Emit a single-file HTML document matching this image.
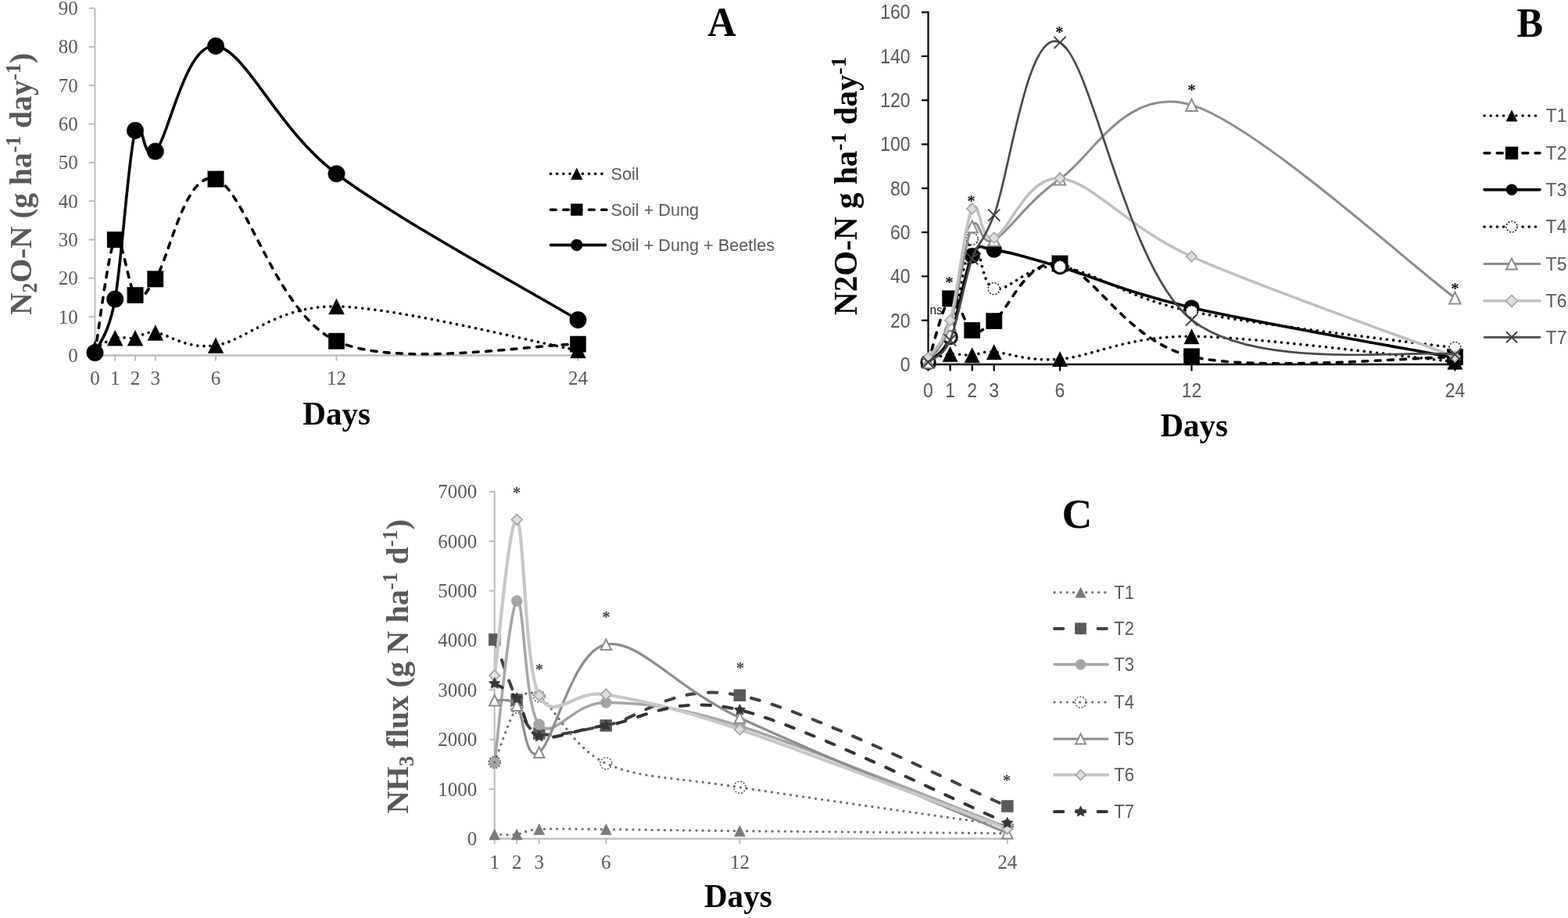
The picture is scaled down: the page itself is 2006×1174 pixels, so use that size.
<!DOCTYPE html>
<html><head><meta charset="utf-8"><title>N2O and NH3 flux figure</title>
<style>html,body{margin:0;padding:0;background:#fff;overflow:hidden;}#fig{width:2006px;height:1174px;}svg{display:block;}</style>
</head><body>
<div id="fig">
<svg width="2006" height="1174" viewBox="0 0 2006 1174">
<rect width="2006" height="1174" fill="#ffffff"/>
<g stroke="#bdbdbd" fill="none">
<line x1="121.5" y1="11.0" x2="121.5" y2="454.5" stroke-width="2"/>
<line x1="113.5" y1="454.5" x2="121.5" y2="454.5" stroke-width="2"/>
<line x1="113.5" y1="405.2" x2="121.5" y2="405.2" stroke-width="2"/>
<line x1="113.5" y1="355.8" x2="121.5" y2="355.8" stroke-width="2"/>
<line x1="113.5" y1="306.5" x2="121.5" y2="306.5" stroke-width="2"/>
<line x1="113.5" y1="257.2" x2="121.5" y2="257.2" stroke-width="2"/>
<line x1="113.5" y1="207.9" x2="121.5" y2="207.9" stroke-width="2"/>
<line x1="113.5" y1="158.5" x2="121.5" y2="158.5" stroke-width="2"/>
<line x1="113.5" y1="109.2" x2="121.5" y2="109.2" stroke-width="2"/>
<line x1="113.5" y1="59.9" x2="121.5" y2="59.9" stroke-width="2"/>
<line x1="113.5" y1="10.5" x2="121.5" y2="10.5" stroke-width="2"/>
<line x1="120.5" y1="454.5" x2="740.5" y2="454.5" stroke-width="2.4"/>
<line x1="121.5" y1="454.5" x2="121.5" y2="461.5" stroke-width="2"/>
<line x1="147.2" y1="454.5" x2="147.2" y2="461.5" stroke-width="2"/>
<line x1="173.0" y1="454.5" x2="173.0" y2="461.5" stroke-width="2"/>
<line x1="198.8" y1="454.5" x2="198.8" y2="461.5" stroke-width="2"/>
<line x1="276.0" y1="454.5" x2="276.0" y2="461.5" stroke-width="2"/>
<line x1="430.5" y1="454.5" x2="430.5" y2="461.5" stroke-width="2"/>
<line x1="739.5" y1="454.5" x2="739.5" y2="461.5" stroke-width="2"/>
</g>
<text transform="translate(99.80,462.90)" text-anchor="end" font-family="'Liberation Serif', 'Times New Roman', serif" font-size="25.0" fill="#595959" >0</text>
<text transform="translate(99.80,413.57)" text-anchor="end" font-family="'Liberation Serif', 'Times New Roman', serif" font-size="25.0" fill="#595959" >10</text>
<text transform="translate(99.80,364.24)" text-anchor="end" font-family="'Liberation Serif', 'Times New Roman', serif" font-size="25.0" fill="#595959" >20</text>
<text transform="translate(99.80,314.91)" text-anchor="end" font-family="'Liberation Serif', 'Times New Roman', serif" font-size="25.0" fill="#595959" >30</text>
<text transform="translate(99.80,265.58)" text-anchor="end" font-family="'Liberation Serif', 'Times New Roman', serif" font-size="25.0" fill="#595959" >40</text>
<text transform="translate(99.80,216.25)" text-anchor="end" font-family="'Liberation Serif', 'Times New Roman', serif" font-size="25.0" fill="#595959" >50</text>
<text transform="translate(99.80,166.92)" text-anchor="end" font-family="'Liberation Serif', 'Times New Roman', serif" font-size="25.0" fill="#595959" >60</text>
<text transform="translate(99.80,117.59)" text-anchor="end" font-family="'Liberation Serif', 'Times New Roman', serif" font-size="25.0" fill="#595959" >70</text>
<text transform="translate(99.80,68.26)" text-anchor="end" font-family="'Liberation Serif', 'Times New Roman', serif" font-size="25.0" fill="#595959" >80</text>
<text transform="translate(99.80,18.93)" text-anchor="end" font-family="'Liberation Serif', 'Times New Roman', serif" font-size="25.0" fill="#595959" >90</text>
<text transform="translate(121.50,491.50)" text-anchor="middle" font-family="'Liberation Serif', 'Times New Roman', serif" font-size="25.0" fill="#595959" >0</text>
<text transform="translate(147.25,491.50)" text-anchor="middle" font-family="'Liberation Serif', 'Times New Roman', serif" font-size="25.0" fill="#595959" >1</text>
<text transform="translate(173.00,491.50)" text-anchor="middle" font-family="'Liberation Serif', 'Times New Roman', serif" font-size="25.0" fill="#595959" >2</text>
<text transform="translate(198.75,491.50)" text-anchor="middle" font-family="'Liberation Serif', 'Times New Roman', serif" font-size="25.0" fill="#595959" >3</text>
<text transform="translate(276.00,491.50)" text-anchor="middle" font-family="'Liberation Serif', 'Times New Roman', serif" font-size="25.0" fill="#595959" >6</text>
<text transform="translate(430.50,491.50)" text-anchor="middle" font-family="'Liberation Serif', 'Times New Roman', serif" font-size="25.0" fill="#595959" >12</text>
<text transform="translate(739.50,491.50)" text-anchor="middle" font-family="'Liberation Serif', 'Times New Roman', serif" font-size="25.0" fill="#595959" >24</text>
<text transform="translate(39.60,235.40) rotate(-90) scale(0.9600,1)" text-anchor="middle" font-family="'Liberation Serif', 'Times New Roman', serif" font-size="41.0" font-weight="bold" fill="#595959" >N<tspan font-size="27" dy="7">2</tspan><tspan dy="-7">O-N (g ha</tspan><tspan font-size="27" dy="-14">-1</tspan><tspan dy="14"> day</tspan><tspan font-size="27" dy="-14">-1</tspan><tspan dy="14">)</tspan></text>
<text transform="translate(430.70,542.60) scale(0.9550,1)" text-anchor="middle" font-family="'Liberation Serif', 'Times New Roman', serif" font-size="43.0" font-weight="bold" fill="#000" >Days</text>
<text transform="translate(923.45,45.90) scale(0.9600,1)" text-anchor="middle" font-family="'Liberation Serif', 'Times New Roman', serif" font-size="52.5" font-weight="bold" fill="#000" >A</text>
<path d="M121.5,445.6 C125.8,443.4 138.7,434.5 147.2,432.3 C155.8,430.1 164.4,433.5 173.0,432.3 C181.6,431.2 181.6,423.8 198.8,425.4 C215.9,427.0 237.4,447.3 276.0,441.7 C314.6,436.1 353.2,390.8 430.5,391.9 C507.8,392.9 688.0,438.7 739.5,448.1" fill="none" stroke="#000" stroke-width="3.6" stroke-dasharray="0.1 8.07" stroke-linecap="round"/>
<polygon points="121.5,435.6 131.5,455.6 111.5,455.6" fill="#000" stroke="#000" stroke-width="0.3" stroke-linejoin="miter" />
<polygon points="147.2,422.3 157.2,442.3 137.2,442.3" fill="#000" stroke="#000" stroke-width="0.3" stroke-linejoin="miter" />
<polygon points="173.0,422.3 183.0,442.3 163.0,442.3" fill="#000" stroke="#000" stroke-width="0.3" stroke-linejoin="miter" />
<polygon points="198.8,415.4 208.8,435.4 188.8,435.4" fill="#000" stroke="#000" stroke-width="0.3" stroke-linejoin="miter" />
<polygon points="276.0,431.7 286.0,451.7 266.0,451.7" fill="#000" stroke="#000" stroke-width="0.3" stroke-linejoin="miter" />
<polygon points="430.5,381.9 440.5,401.9 420.5,401.9" fill="#000" stroke="#000" stroke-width="0.3" stroke-linejoin="miter" />
<polygon points="739.5,438.1 749.5,458.1 729.5,458.1" fill="#000" stroke="#000" stroke-width="0.3" stroke-linejoin="miter" />
<path d="M121.5,451.5 C125.8,427.4 138.7,318.8 147.2,306.5 C155.8,294.2 164.4,369.2 173.0,377.5 C181.6,385.9 181.6,381.6 198.8,356.8 C215.9,332.1 237.4,215.8 276.0,229.1 C314.6,242.3 353.2,401.1 430.5,436.2 C507.8,471.4 688.0,439.5 739.5,440.2" fill="none" stroke="#000" stroke-width="3.6" stroke-dasharray="6.9 9.4" stroke-linecap="round"/>
<rect x="137.0" y="296.3" width="20.5" height="20.5" fill="#000" stroke="#000" stroke-width="0.3" />
<rect x="162.8" y="367.3" width="20.5" height="20.5" fill="#000" stroke="#000" stroke-width="0.3" />
<rect x="188.5" y="346.6" width="20.5" height="20.5" fill="#000" stroke="#000" stroke-width="0.3" />
<rect x="265.8" y="218.8" width="20.5" height="20.5" fill="#000" stroke="#000" stroke-width="0.3" />
<rect x="420.2" y="426.0" width="20.5" height="20.5" fill="#000" stroke="#000" stroke-width="0.3" />
<rect x="729.2" y="429.9" width="20.5" height="20.5" fill="#000" stroke="#000" stroke-width="0.3" />
<path d="M121.5,451.0 C125.8,439.6 138.7,429.8 147.2,382.5 C155.8,335.1 164.4,198.4 173.0,166.9 C181.6,135.4 181.6,211.5 198.8,193.5 C215.9,175.5 237.4,54.1 276.0,58.9 C314.6,63.6 353.2,163.8 430.5,222.2 C507.8,280.5 688.0,378.0 739.5,409.1" fill="none" stroke="#000" stroke-width="3.6"/>
<circle cx="121.5" cy="451.0" r="10.8" fill="#000" stroke="#000" stroke-width="0.3" />
<circle cx="147.2" cy="382.5" r="10.8" fill="#000" stroke="#000" stroke-width="0.3" />
<circle cx="173.0" cy="166.9" r="10.8" fill="#000" stroke="#000" stroke-width="0.3" />
<circle cx="198.8" cy="193.5" r="10.8" fill="#000" stroke="#000" stroke-width="0.3" />
<circle cx="276.0" cy="58.9" r="10.8" fill="#000" stroke="#000" stroke-width="0.3" />
<circle cx="430.5" cy="222.2" r="10.8" fill="#000" stroke="#000" stroke-width="0.3" />
<circle cx="739.5" cy="409.1" r="10.8" fill="#000" stroke="#000" stroke-width="0.3" />
<line x1="704.5" y1="222.2" x2="772.0" y2="222.2" stroke="#000" stroke-width="3.6" stroke-dasharray="0.1 8.07" stroke-linecap="round"/>
<polygon points="737.8,214.7 745.3,229.7 730.3,229.7" fill="#000" stroke="#000" stroke-width="0.3" stroke-linejoin="miter" />
<text transform="translate(781.50,230.20) scale(0.9850,1)" text-anchor="start" font-family="'Liberation Sans', Arial, sans-serif" font-size="22.0" fill="#595959" >Soil</text>
<line x1="704.5" y1="268.2" x2="776.0" y2="268.2" stroke="#000" stroke-width="3.6" stroke-dasharray="6.9 9.4" stroke-linecap="round"/>
<rect x="730.3" y="260.7" width="15.0" height="15.0" fill="#000" stroke="#000" stroke-width="0.3" />
<text transform="translate(781.50,276.20) scale(0.9850,1)" text-anchor="start" font-family="'Liberation Sans', Arial, sans-serif" font-size="22.0" fill="#595959" >Soil + Dung</text>
<line x1="704.5" y1="313.4" x2="774.5" y2="313.4" stroke="#000" stroke-width="3.6" stroke-linecap="round"/>
<circle cx="737.8" cy="313.4" r="7.5" fill="#000" stroke="#000" stroke-width="0.3" />
<text transform="translate(781.50,321.40) scale(0.9850,1)" text-anchor="start" font-family="'Liberation Sans', Arial, sans-serif" font-size="22.0" fill="#595959" >Soil + Dung + Beetles</text>
<g stroke="#000" fill="none">
<line x1="1187.5" y1="14.6" x2="1187.5" y2="466.0" stroke-width="2.2"/>
<line x1="1179.0" y1="466.0" x2="1187.5" y2="466.0" stroke-width="2.2"/>
<line x1="1179.0" y1="409.7" x2="1187.5" y2="409.7" stroke-width="2.2"/>
<line x1="1179.0" y1="353.4" x2="1187.5" y2="353.4" stroke-width="2.2"/>
<line x1="1179.0" y1="297.1" x2="1187.5" y2="297.1" stroke-width="2.2"/>
<line x1="1179.0" y1="240.8" x2="1187.5" y2="240.8" stroke-width="2.2"/>
<line x1="1179.0" y1="184.5" x2="1187.5" y2="184.5" stroke-width="2.2"/>
<line x1="1179.0" y1="128.2" x2="1187.5" y2="128.2" stroke-width="2.2"/>
<line x1="1179.0" y1="71.9" x2="1187.5" y2="71.9" stroke-width="2.2"/>
<line x1="1179.0" y1="15.6" x2="1187.5" y2="15.6" stroke-width="2.2"/>
<line x1="1186.5" y1="466.0" x2="1862.4" y2="466.0" stroke-width="2.5"/>
<line x1="1187.5" y1="466.0" x2="1187.5" y2="474.5" stroke-width="2.2"/>
<line x1="1215.6" y1="466.0" x2="1215.6" y2="474.5" stroke-width="2.2"/>
<line x1="1243.7" y1="466.0" x2="1243.7" y2="474.5" stroke-width="2.2"/>
<line x1="1271.7" y1="466.0" x2="1271.7" y2="474.5" stroke-width="2.2"/>
<line x1="1356.0" y1="466.0" x2="1356.0" y2="474.5" stroke-width="2.2"/>
<line x1="1524.5" y1="466.0" x2="1524.5" y2="474.5" stroke-width="2.2"/>
<line x1="1861.4" y1="466.0" x2="1861.4" y2="474.5" stroke-width="2.2"/>
</g>
<text transform="translate(1164.60,474.80) scale(0.9200,1)" text-anchor="end" font-family="'Liberation Sans', Arial, sans-serif" font-size="25.0" fill="#595959" >0</text>
<text transform="translate(1164.60,418.50) scale(0.9200,1)" text-anchor="end" font-family="'Liberation Sans', Arial, sans-serif" font-size="25.0" fill="#595959" >20</text>
<text transform="translate(1164.60,362.20) scale(0.9200,1)" text-anchor="end" font-family="'Liberation Sans', Arial, sans-serif" font-size="25.0" fill="#595959" >40</text>
<text transform="translate(1164.60,305.90) scale(0.9200,1)" text-anchor="end" font-family="'Liberation Sans', Arial, sans-serif" font-size="25.0" fill="#595959" >60</text>
<text transform="translate(1164.60,249.60) scale(0.9200,1)" text-anchor="end" font-family="'Liberation Sans', Arial, sans-serif" font-size="25.0" fill="#595959" >80</text>
<text transform="translate(1164.60,193.30) scale(0.9200,1)" text-anchor="end" font-family="'Liberation Sans', Arial, sans-serif" font-size="25.0" fill="#595959" >100</text>
<text transform="translate(1164.60,137.00) scale(0.9200,1)" text-anchor="end" font-family="'Liberation Sans', Arial, sans-serif" font-size="25.0" fill="#595959" >120</text>
<text transform="translate(1164.60,80.70) scale(0.9200,1)" text-anchor="end" font-family="'Liberation Sans', Arial, sans-serif" font-size="25.0" fill="#595959" >140</text>
<text transform="translate(1164.60,24.40) scale(0.9200,1)" text-anchor="end" font-family="'Liberation Sans', Arial, sans-serif" font-size="25.0" fill="#595959" >160</text>
<text transform="translate(1187.50,507.60) scale(0.9200,1)" text-anchor="middle" font-family="'Liberation Sans', Arial, sans-serif" font-size="25.0" fill="#595959" >0</text>
<text transform="translate(1215.58,507.60) scale(0.9200,1)" text-anchor="middle" font-family="'Liberation Sans', Arial, sans-serif" font-size="25.0" fill="#595959" >1</text>
<text transform="translate(1243.66,507.60) scale(0.9200,1)" text-anchor="middle" font-family="'Liberation Sans', Arial, sans-serif" font-size="25.0" fill="#595959" >2</text>
<text transform="translate(1271.74,507.60) scale(0.9200,1)" text-anchor="middle" font-family="'Liberation Sans', Arial, sans-serif" font-size="25.0" fill="#595959" >3</text>
<text transform="translate(1355.98,507.60) scale(0.9200,1)" text-anchor="middle" font-family="'Liberation Sans', Arial, sans-serif" font-size="25.0" fill="#595959" >6</text>
<text transform="translate(1524.46,507.60) scale(0.9200,1)" text-anchor="middle" font-family="'Liberation Sans', Arial, sans-serif" font-size="25.0" fill="#595959" >12</text>
<text transform="translate(1861.42,507.60) scale(0.9200,1)" text-anchor="middle" font-family="'Liberation Sans', Arial, sans-serif" font-size="25.0" fill="#595959" >24</text>
<text transform="translate(1096.30,237.80) rotate(-90) scale(0.9800,1)" text-anchor="middle" font-family="'Liberation Serif', 'Times New Roman', serif" font-size="42.0" font-weight="bold" fill="#000" >N2O-N g ha<tspan font-size="28" dy="-14">-1</tspan><tspan dy="14"> day</tspan><tspan font-size="28" dy="-14">-1</tspan></text>
<text transform="translate(1527.75,557.90) scale(0.9550,1)" text-anchor="middle" font-family="'Liberation Serif', 'Times New Roman', serif" font-size="43.0" font-weight="bold" fill="#000" >Days</text>
<text transform="translate(1957.40,47.10) scale(0.9400,1)" text-anchor="middle" font-family="'Liberation Serif', 'Times New Roman', serif" font-size="53.6" font-weight="bold" fill="#000" >B</text>
<path d="M1187.5,459.8 C1192.2,458.7 1206.2,454.0 1215.6,453.1 C1224.9,452.1 1234.3,454.6 1243.7,454.2 C1253.0,453.7 1253.0,449.4 1271.7,450.2 C1290.5,451.1 1313.9,462.6 1356.0,459.2 C1398.1,455.9 1440.2,429.7 1524.5,430.2 C1608.7,430.8 1805.3,457.2 1861.4,462.6" fill="none" stroke="#000" stroke-width="3.6" stroke-dasharray="0.1 8.07" stroke-linecap="round"/>
<polygon points="1187.5,450.1 1197.2,469.6 1177.8,469.6" fill="#000" stroke="#000" stroke-width="0.3" stroke-linejoin="miter" />
<polygon points="1215.6,443.3 1225.3,462.8 1205.8,462.8" fill="#000" stroke="#000" stroke-width="0.3" stroke-linejoin="miter" />
<polygon points="1243.7,444.4 1253.4,463.9 1233.9,463.9" fill="#000" stroke="#000" stroke-width="0.3" stroke-linejoin="miter" />
<polygon points="1271.7,440.5 1281.5,460.0 1262.0,460.0" fill="#000" stroke="#000" stroke-width="0.3" stroke-linejoin="miter" />
<polygon points="1356.0,449.5 1365.7,469.0 1346.2,469.0" fill="#000" stroke="#000" stroke-width="0.3" stroke-linejoin="miter" />
<polygon points="1524.5,420.5 1534.2,440.0 1514.7,440.0" fill="#000" stroke="#000" stroke-width="0.3" stroke-linejoin="miter" />
<polygon points="1861.4,452.9 1871.2,472.4 1851.7,472.4" fill="#000" stroke="#000" stroke-width="0.3" stroke-linejoin="miter" />
<path d="M1187.5,463.2 C1192.2,449.6 1206.2,388.6 1215.6,381.8 C1224.9,375.0 1234.3,417.6 1243.7,422.4 C1253.0,427.2 1253.0,424.8 1271.7,410.5 C1290.5,396.3 1313.9,329.5 1356.0,337.1 C1398.1,344.6 1440.2,435.9 1524.5,455.9 C1608.7,475.8 1805.3,456.6 1861.4,456.7" fill="none" stroke="#000" stroke-width="3.6" stroke-dasharray="6.9 9.4" stroke-linecap="round"/>
<rect x="1205.3" y="371.6" width="20.5" height="20.5" fill="#000" stroke="#000" stroke-width="0.3" />
<rect x="1233.4" y="412.1" width="20.5" height="20.5" fill="#000" stroke="#000" stroke-width="0.3" />
<rect x="1261.5" y="400.3" width="20.5" height="20.5" fill="#000" stroke="#000" stroke-width="0.3" />
<rect x="1345.7" y="326.8" width="20.5" height="20.5" fill="#000" stroke="#000" stroke-width="0.3" />
<rect x="1514.2" y="445.6" width="20.5" height="20.5" fill="#000" stroke="#000" stroke-width="0.3" />
<rect x="1851.2" y="446.5" width="20.5" height="20.5" fill="#000" stroke="#000" stroke-width="0.3" />
<path d="M1187.5,463.2 C1192.2,457.8 1206.2,453.8 1215.6,431.1 C1224.9,408.4 1234.3,345.5 1243.7,326.9 C1253.0,308.4 1253.0,317.2 1271.7,319.6 C1290.5,322.0 1313.9,329.0 1356.0,341.3 C1398.1,353.6 1440.2,374.0 1524.5,393.4 C1608.7,412.7 1805.3,446.9 1861.4,457.6" fill="none" stroke="#000" stroke-width="3.6" />
<circle cx="1187.5" cy="463.2" r="10.0" fill="#000" stroke="#000" stroke-width="0.3" />
<circle cx="1215.6" cy="431.1" r="10.0" fill="#000" stroke="#000" stroke-width="0.3" />
<circle cx="1243.7" cy="326.9" r="10.0" fill="#000" stroke="#000" stroke-width="0.3" />
<circle cx="1271.7" cy="319.6" r="10.0" fill="#000" stroke="#000" stroke-width="0.3" />
<circle cx="1356.0" cy="341.3" r="10.0" fill="#000" stroke="#000" stroke-width="0.3" />
<circle cx="1524.5" cy="393.4" r="10.0" fill="#000" stroke="#000" stroke-width="0.3" />
<circle cx="1861.4" cy="457.6" r="10.0" fill="#000" stroke="#000" stroke-width="0.3" />
<path d="M1187.5,461.8 C1192.2,456.7 1206.2,457.1 1215.6,431.1 C1224.9,405.1 1234.3,315.9 1243.7,305.5 C1253.0,295.2 1253.0,363.3 1271.7,369.2 C1290.5,375.1 1313.9,336.1 1356.0,341.0 C1398.1,345.9 1440.2,381.1 1524.5,398.4 C1608.7,415.8 1805.3,437.1 1861.4,444.9" fill="none" stroke="#000" stroke-width="3.6" stroke-dasharray="0.1 8.07" stroke-linecap="round"/>
<circle cx="1187.5" cy="461.8" r="7.5" fill="#fff" stroke="#222" stroke-width="1.6" stroke-dasharray="2 2"/>
<circle cx="1215.6" cy="431.1" r="7.5" fill="#fff" stroke="#222" stroke-width="1.6" stroke-dasharray="2 2"/>
<circle cx="1243.7" cy="305.5" r="7.5" fill="#fff" stroke="#222" stroke-width="1.6" stroke-dasharray="2 2"/>
<circle cx="1271.7" cy="369.2" r="7.5" fill="#fff" stroke="#222" stroke-width="1.6" stroke-dasharray="2 2"/>
<circle cx="1356.0" cy="341.0" r="7.5" fill="#fff" stroke="#222" stroke-width="1.6" stroke-dasharray="2 2"/>
<circle cx="1524.5" cy="398.4" r="7.5" fill="#fff" stroke="#222" stroke-width="1.6" stroke-dasharray="2 2"/>
<circle cx="1861.4" cy="444.9" r="7.5" fill="#fff" stroke="#222" stroke-width="1.6" stroke-dasharray="2 2"/>
<path d="M1187.5,463.2 C1192.2,455.2 1206.2,444.2 1215.6,415.3 C1224.9,386.4 1234.3,307.8 1243.7,289.8 C1253.0,271.7 1253.0,317.1 1271.7,307.0 C1290.5,296.8 1313.9,257.7 1356.0,229.0 C1398.1,200.2 1440.2,109.1 1524.5,134.4 C1608.7,159.7 1805.3,339.9 1861.4,381.0" fill="none" stroke="#8c8c8c" stroke-width="3.0" />
<polygon points="1187.5,455.7 1194.8,470.7 1180.2,470.7" fill="#fff" stroke="#8c8c8c" stroke-width="2.0" stroke-linejoin="miter" />
<polygon points="1215.6,407.8 1222.8,422.8 1208.3,422.8" fill="#fff" stroke="#8c8c8c" stroke-width="2.0" stroke-linejoin="miter" />
<polygon points="1243.7,282.3 1250.9,297.3 1236.4,297.3" fill="#fff" stroke="#8c8c8c" stroke-width="2.0" stroke-linejoin="miter" />
<polygon points="1271.7,299.5 1279.0,314.5 1264.5,314.5" fill="#fff" stroke="#8c8c8c" stroke-width="2.0" stroke-linejoin="miter" />
<polygon points="1356.0,221.5 1363.2,236.5 1348.7,236.5" fill="#fff" stroke="#8c8c8c" stroke-width="2.0" stroke-linejoin="miter" />
<polygon points="1524.5,126.9 1531.7,141.9 1517.2,141.9" fill="#fff" stroke="#8c8c8c" stroke-width="2.0" stroke-linejoin="miter" />
<polygon points="1861.4,373.5 1868.7,388.5 1854.2,388.5" fill="#fff" stroke="#8c8c8c" stroke-width="2.0" stroke-linejoin="miter" />
<path d="M1187.5,457.6 C1192.2,449.6 1206.2,441.5 1215.6,409.7 C1224.9,377.9 1234.3,284.6 1243.7,267.0 C1253.0,249.4 1253.0,310.6 1271.7,304.1 C1290.5,297.7 1313.9,224.1 1356.0,228.1 C1398.1,232.1 1440.2,290.1 1524.5,328.1 C1608.7,366.1 1805.3,434.8 1861.4,456.1" fill="none" stroke="#c0c0c0" stroke-width="3.6" />
<polygon points="1187.5,450.8 1194.2,457.6 1187.5,464.3 1180.8,457.6" fill="#dcdcdc" stroke="#a6a6a6" stroke-width="1.6" />
<polygon points="1215.6,402.9 1222.3,409.7 1215.6,416.4 1208.8,409.7" fill="#dcdcdc" stroke="#a6a6a6" stroke-width="1.6" />
<polygon points="1243.7,260.2 1250.4,267.0 1243.7,273.7 1236.9,267.0" fill="#dcdcdc" stroke="#a6a6a6" stroke-width="1.6" />
<polygon points="1271.7,297.4 1278.5,304.1 1271.7,310.9 1265.0,304.1" fill="#dcdcdc" stroke="#a6a6a6" stroke-width="1.6" />
<polygon points="1356.0,221.4 1362.7,228.1 1356.0,234.9 1349.2,228.1" fill="#dcdcdc" stroke="#a6a6a6" stroke-width="1.6" />
<polygon points="1524.5,321.3 1531.2,328.1 1524.5,334.8 1517.7,328.1" fill="#dcdcdc" stroke="#a6a6a6" stroke-width="1.6" />
<polygon points="1861.4,449.4 1868.2,456.1 1861.4,462.9 1854.7,456.1" fill="#dcdcdc" stroke="#a6a6a6" stroke-width="1.6" />
<path d="M1187.5,463.2 C1192.2,458.5 1206.2,457.1 1215.6,435.0 C1224.9,413.0 1234.3,357.5 1243.7,330.9 C1253.0,304.2 1253.0,321.2 1271.7,275.1 C1290.5,229.1 1313.9,32.1 1356.0,54.4 C1398.1,76.8 1440.2,342.7 1524.5,409.1 C1608.7,475.6 1805.3,446.0 1861.4,453.3" fill="none" stroke="#4a4a4a" stroke-width="2.7" />
<path d="M1180.0,455.7 L1195.0,470.7 M1180.0,470.7 L1195.0,455.7" stroke="#3f3f3f" stroke-width="2.0" fill="none" />
<path d="M1208.1,427.5 L1223.1,442.5 M1208.1,442.5 L1223.1,427.5" stroke="#3f3f3f" stroke-width="2.0" fill="none" />
<path d="M1236.2,323.4 L1251.2,338.4 M1236.2,338.4 L1251.2,323.4" stroke="#3f3f3f" stroke-width="2.0" fill="none" />
<path d="M1264.2,267.6 L1279.2,282.6 M1264.2,282.6 L1279.2,267.6" stroke="#3f3f3f" stroke-width="2.0" fill="none" />
<path d="M1348.5,46.9 L1363.5,61.9 M1348.5,61.9 L1363.5,46.9" stroke="#3f3f3f" stroke-width="2.0" fill="none" />
<path d="M1517.0,401.6 L1532.0,416.6 M1517.0,416.6 L1532.0,401.6" stroke="#3f3f3f" stroke-width="2.0" fill="none" />
<path d="M1853.9,445.8 L1868.9,460.8 M1853.9,460.8 L1868.9,445.8" stroke="#3f3f3f" stroke-width="2.0" fill="none" />
<text transform="translate(1214.50,368.10)" text-anchor="middle" font-family="'Liberation Serif', 'Times New Roman', serif" font-size="21.0" font-weight="bold" fill="#111" >*</text>
<text transform="translate(1242.60,264.40)" text-anchor="middle" font-family="'Liberation Serif', 'Times New Roman', serif" font-size="21.0" font-weight="bold" fill="#111" >*</text>
<text transform="translate(1355.50,48.20)" text-anchor="middle" font-family="'Liberation Serif', 'Times New Roman', serif" font-size="21.0" font-weight="bold" fill="#111" >*</text>
<text transform="translate(1524.40,121.60)" text-anchor="middle" font-family="'Liberation Serif', 'Times New Roman', serif" font-size="21.0" font-weight="bold" fill="#111" >*</text>
<text transform="translate(1861.60,375.60)" text-anchor="middle" font-family="'Liberation Serif', 'Times New Roman', serif" font-size="21.0" font-weight="bold" fill="#111" >*</text>
<text transform="translate(1189.50,402.00) scale(0.9000,1)" text-anchor="start" font-family="'Liberation Sans', Arial, sans-serif" font-size="17.0" fill="#111" >ns</text>
<line x1="1899" y1="148.0" x2="1970" y2="148.0" stroke="#000" stroke-width="3.6" stroke-dasharray="0.1 8.07" stroke-linecap="round" />
<polygon points="1934.0,140.8 1941.2,155.2 1926.8,155.2" fill="#000" stroke="#000" stroke-width="0.3" stroke-linejoin="miter" />
<text transform="translate(1977.60,156.30)" text-anchor="start" font-family="'Liberation Sans', Arial, sans-serif" font-size="23.0" fill="#595959" >T1</text>
<line x1="1899" y1="195.8" x2="1970" y2="195.8" stroke="#000" stroke-width="3.6" stroke-dasharray="6.9 9.4" stroke-linecap="round" />
<rect x="1926.0" y="187.8" width="16.0" height="16.0" fill="#000" stroke="#000" stroke-width="0.3" />
<text transform="translate(1977.60,204.10)" text-anchor="start" font-family="'Liberation Sans', Arial, sans-serif" font-size="23.0" fill="#595959" >T2</text>
<line x1="1899" y1="242.6" x2="1970" y2="242.6" stroke="#000" stroke-width="3.6"  stroke-linecap="round"/>
<circle cx="1934.0" cy="242.6" r="7.2" fill="#000" stroke="#000" stroke-width="0.3" />
<text transform="translate(1977.60,250.90)" text-anchor="start" font-family="'Liberation Sans', Arial, sans-serif" font-size="23.0" fill="#595959" >T3</text>
<line x1="1899" y1="290.0" x2="1970" y2="290.0" stroke="#000" stroke-width="3.6" stroke-dasharray="0.1 8.07" stroke-linecap="round" />
<circle cx="1934.0" cy="290.0" r="7.0" fill="#fff" stroke="#222" stroke-width="1.6" stroke-dasharray="2 2"/>
<text transform="translate(1977.60,298.30)" text-anchor="start" font-family="'Liberation Sans', Arial, sans-serif" font-size="23.0" fill="#595959" >T4</text>
<line x1="1899" y1="337.4" x2="1970" y2="337.4" stroke="#8c8c8c" stroke-width="3.0"  stroke-linecap="round"/>
<polygon points="1934.0,330.4 1941.0,344.4 1927.0,344.4" fill="#fff" stroke="#8c8c8c" stroke-width="2.0" stroke-linejoin="miter" />
<text transform="translate(1977.60,345.70)" text-anchor="start" font-family="'Liberation Sans', Arial, sans-serif" font-size="23.0" fill="#595959" >T5</text>
<line x1="1899" y1="384.8" x2="1970" y2="384.8" stroke="#c0c0c0" stroke-width="3.6"  stroke-linecap="round"/>
<polygon points="1934.0,377.3 1941.5,384.8 1934.0,392.3 1926.5,384.8" fill="#dcdcdc" stroke="#a6a6a6" stroke-width="1.6" />
<text transform="translate(1977.60,393.10)" text-anchor="start" font-family="'Liberation Sans', Arial, sans-serif" font-size="23.0" fill="#595959" >T6</text>
<line x1="1899" y1="431.3" x2="1970" y2="431.3" stroke="#4a4a4a" stroke-width="2.7"  stroke-linecap="round"/>
<path d="M1927.0,424.3 L1941.0,438.3 M1927.0,438.3 L1941.0,424.3" stroke="#3f3f3f" stroke-width="2.0" fill="none" />
<text transform="translate(1977.60,439.60)" text-anchor="start" font-family="'Liberation Sans', Arial, sans-serif" font-size="23.0" fill="#595959" >T7</text>
<g stroke="#bdbdbd" fill="none">
<line x1="632.7" y1="627.8" x2="632.7" y2="1072.6" stroke-width="2"/>
<line x1="625.7" y1="1072.6" x2="632.7" y2="1072.6" stroke-width="2"/>
<line x1="625.7" y1="1009.2" x2="632.7" y2="1009.2" stroke-width="2"/>
<line x1="625.7" y1="945.8" x2="632.7" y2="945.8" stroke-width="2"/>
<line x1="625.7" y1="882.4" x2="632.7" y2="882.4" stroke-width="2"/>
<line x1="625.7" y1="819.0" x2="632.7" y2="819.0" stroke-width="2"/>
<line x1="625.7" y1="755.6" x2="632.7" y2="755.6" stroke-width="2"/>
<line x1="625.7" y1="692.2" x2="632.7" y2="692.2" stroke-width="2"/>
<line x1="625.7" y1="628.8" x2="632.7" y2="628.8" stroke-width="2"/>
<line x1="631.7" y1="1072.6" x2="1289.7" y2="1072.6" stroke-width="2.2"/>
<line x1="632.7" y1="1072.6" x2="632.7" y2="1079.6" stroke-width="2"/>
<line x1="661.2" y1="1072.6" x2="661.2" y2="1079.6" stroke-width="2"/>
<line x1="689.7" y1="1072.6" x2="689.7" y2="1079.6" stroke-width="2"/>
<line x1="775.3" y1="1072.6" x2="775.3" y2="1079.6" stroke-width="2"/>
<line x1="946.4" y1="1072.6" x2="946.4" y2="1079.6" stroke-width="2"/>
<line x1="1288.7" y1="1072.6" x2="1288.7" y2="1079.6" stroke-width="2"/>
</g>
<text transform="translate(610.20,1081.00)" text-anchor="end" font-family="'Liberation Serif', 'Times New Roman', serif" font-size="25.0" fill="#595959" >0</text>
<text transform="translate(610.20,1017.60)" text-anchor="end" font-family="'Liberation Serif', 'Times New Roman', serif" font-size="25.0" fill="#595959" >1000</text>
<text transform="translate(610.20,954.20)" text-anchor="end" font-family="'Liberation Serif', 'Times New Roman', serif" font-size="25.0" fill="#595959" >2000</text>
<text transform="translate(610.20,890.80)" text-anchor="end" font-family="'Liberation Serif', 'Times New Roman', serif" font-size="25.0" fill="#595959" >3000</text>
<text transform="translate(610.20,827.40)" text-anchor="end" font-family="'Liberation Serif', 'Times New Roman', serif" font-size="25.0" fill="#595959" >4000</text>
<text transform="translate(610.20,764.00)" text-anchor="end" font-family="'Liberation Serif', 'Times New Roman', serif" font-size="25.0" fill="#595959" >5000</text>
<text transform="translate(610.20,700.60)" text-anchor="end" font-family="'Liberation Serif', 'Times New Roman', serif" font-size="25.0" fill="#595959" >6000</text>
<text transform="translate(610.20,637.20)" text-anchor="end" font-family="'Liberation Serif', 'Times New Roman', serif" font-size="25.0" fill="#595959" >7000</text>
<text transform="translate(632.70,1110.90)" text-anchor="middle" font-family="'Liberation Serif', 'Times New Roman', serif" font-size="25.0" fill="#595959" >1</text>
<text transform="translate(661.22,1110.90)" text-anchor="middle" font-family="'Liberation Serif', 'Times New Roman', serif" font-size="25.0" fill="#595959" >2</text>
<text transform="translate(689.74,1110.90)" text-anchor="middle" font-family="'Liberation Serif', 'Times New Roman', serif" font-size="25.0" fill="#595959" >3</text>
<text transform="translate(775.30,1110.90)" text-anchor="middle" font-family="'Liberation Serif', 'Times New Roman', serif" font-size="25.0" fill="#595959" >6</text>
<text transform="translate(946.42,1110.90)" text-anchor="middle" font-family="'Liberation Serif', 'Times New Roman', serif" font-size="25.0" fill="#595959" >12</text>
<text transform="translate(1288.66,1110.90)" text-anchor="middle" font-family="'Liberation Serif', 'Times New Roman', serif" font-size="25.0" fill="#595959" >24</text>
<text transform="translate(521.60,852.30) rotate(-90) scale(0.9830,1)" text-anchor="middle" font-family="'Liberation Serif', 'Times New Roman', serif" font-size="41.0" font-weight="bold" fill="#595959" >NH<tspan font-size="27" dy="7">3</tspan><tspan dy="-7"> flux (g N ha</tspan><tspan font-size="27" dy="-14">-1</tspan><tspan dy="14"> d</tspan><tspan font-size="27" dy="-14">-1</tspan><tspan dy="14">)</tspan></text>
<text transform="translate(944.30,1159.60) scale(0.9550,1)" text-anchor="middle" font-family="'Liberation Serif', 'Times New Roman', serif" font-size="43.0" font-weight="bold" fill="#000" >Days</text>
<text transform="translate(1377.90,675.30) scale(1.0350,1)" text-anchor="middle" font-family="'Liberation Serif', 'Times New Roman', serif" font-size="52.0" font-weight="bold" fill="#000" >C</text>
<path d="M632.7,1067.0 C637.5,1067.0 651.7,1068.1 661.2,1067.0 C670.7,1065.9 670.7,1061.6 689.7,1060.6 C708.8,1059.5 732.5,1060.2 775.3,1060.6 C818.1,1060.9 860.9,1061.9 946.4,1062.7 C1032.0,1063.6 1231.6,1065.2 1288.7,1065.7" fill="none" stroke="#6e6e6e" stroke-width="3.2" stroke-dasharray="0.1 8" stroke-linecap="round"/>
<polygon points="632.7,1060.0 639.7,1074.0 625.7,1074.0" fill="#7a7a7a" stroke="#7a7a7a" stroke-width="0.5" stroke-linejoin="miter" />
<polygon points="661.2,1060.0 668.2,1074.0 654.2,1074.0" fill="#7a7a7a" stroke="#7a7a7a" stroke-width="0.5" stroke-linejoin="miter" />
<polygon points="689.7,1053.6 696.7,1067.6 682.7,1067.6" fill="#7a7a7a" stroke="#7a7a7a" stroke-width="0.5" stroke-linejoin="miter" />
<polygon points="775.3,1053.6 782.3,1067.6 768.3,1067.6" fill="#7a7a7a" stroke="#7a7a7a" stroke-width="0.5" stroke-linejoin="miter" />
<polygon points="946.4,1055.7 953.4,1069.7 939.4,1069.7" fill="#7a7a7a" stroke="#7a7a7a" stroke-width="0.5" stroke-linejoin="miter" />
<polygon points="1288.7,1058.7 1295.7,1072.7 1281.7,1072.7" fill="#7a7a7a" stroke="#7a7a7a" stroke-width="0.5" stroke-linejoin="miter" />
<path d="M632.7,817.9 C637.5,830.8 651.7,875.1 661.2,895.1 C670.7,915.1 670.7,932.5 689.7,938.0 C708.8,943.5 732.5,935.9 775.3,927.8 C818.1,919.7 860.9,872.1 946.4,889.3 C1032.0,906.5 1231.6,1007.4 1288.7,1031.0" fill="none" stroke="#404040" stroke-width="4.0" stroke-dasharray="11.3 16.5" stroke-linecap="round"/>
<rect x="625.2" y="810.4" width="15.0" height="15.0" fill="#5a5a5a" stroke="#5a5a5a" stroke-width="0.5" />
<rect x="653.7" y="887.6" width="15.0" height="15.0" fill="#5a5a5a" stroke="#5a5a5a" stroke-width="0.5" />
<rect x="682.2" y="930.5" width="15.0" height="15.0" fill="#5a5a5a" stroke="#5a5a5a" stroke-width="0.5" />
<rect x="767.8" y="920.3" width="15.0" height="15.0" fill="#5a5a5a" stroke="#5a5a5a" stroke-width="0.5" />
<rect x="938.9" y="881.8" width="15.0" height="15.0" fill="#5a5a5a" stroke="#5a5a5a" stroke-width="0.5" />
<rect x="1281.2" y="1023.5" width="15.0" height="15.0" fill="#5a5a5a" stroke="#5a5a5a" stroke-width="0.5" />
<path d="M632.7,975.0 C637.5,940.6 651.7,776.7 661.2,768.6 C670.7,760.5 670.7,904.9 689.7,926.5 C708.8,948.2 732.5,898.0 775.3,898.4 C818.1,898.7 860.9,901.9 946.4,928.5 C1032.0,955.1 1231.6,1036.4 1288.7,1058.0" fill="none" stroke="#a5a5a5" stroke-width="3.5" />
<circle cx="632.7" cy="975.0" r="7.0" fill="#a5a5a5" stroke="#a5a5a5" stroke-width="0.5" />
<circle cx="661.2" cy="768.6" r="7.0" fill="#a5a5a5" stroke="#a5a5a5" stroke-width="0.5" />
<circle cx="689.7" cy="926.5" r="7.0" fill="#a5a5a5" stroke="#a5a5a5" stroke-width="0.5" />
<circle cx="775.3" cy="898.4" r="7.0" fill="#a5a5a5" stroke="#a5a5a5" stroke-width="0.5" />
<circle cx="946.4" cy="928.5" r="7.0" fill="#a5a5a5" stroke="#a5a5a5" stroke-width="0.5" />
<circle cx="1288.7" cy="1058.0" r="7.0" fill="#a5a5a5" stroke="#a5a5a5" stroke-width="0.5" />
<path d="M632.7,975.0 C637.5,963.2 651.7,918.6 661.2,904.6 C670.7,890.5 670.7,878.7 689.7,890.6 C708.8,902.6 732.5,956.9 775.3,976.3 C818.1,995.7 860.9,993.6 946.4,1006.9 C1032.0,1020.2 1231.6,1047.9 1288.7,1056.1" fill="none" stroke="#6e6e6e" stroke-width="3.2" stroke-dasharray="0.1 8" stroke-linecap="round"/>
<circle cx="632.7" cy="975.0" r="7.5" fill="none" stroke="#555" stroke-width="1.5" stroke-dasharray="2 2"/>
<circle cx="661.2" cy="904.6" r="7.5" fill="none" stroke="#555" stroke-width="1.5" stroke-dasharray="2 2"/>
<circle cx="689.7" cy="890.6" r="7.5" fill="none" stroke="#555" stroke-width="1.5" stroke-dasharray="2 2"/>
<circle cx="775.3" cy="976.3" r="7.5" fill="none" stroke="#555" stroke-width="1.5" stroke-dasharray="2 2"/>
<circle cx="946.4" cy="1006.9" r="7.5" fill="none" stroke="#555" stroke-width="1.5" stroke-dasharray="2 2"/>
<circle cx="1288.7" cy="1056.1" r="7.5" fill="none" stroke="#555" stroke-width="1.5" stroke-dasharray="2 2"/>
<path d="M632.7,895.8 C637.5,896.8 651.7,891.1 661.2,902.2 C670.7,913.3 670.7,975.3 689.7,962.3 C708.8,949.3 732.5,831.7 775.3,824.3 C818.1,816.9 860.9,877.8 946.4,918.0 C1032.0,958.2 1231.6,1041.0 1288.7,1065.6" fill="none" stroke="#8c8c8c" stroke-width="3.2" />
<polygon points="632.7,889.0 639.5,902.5 626.0,902.5" fill="#fff" stroke="#8c8c8c" stroke-width="2.0" stroke-linejoin="miter" />
<polygon points="661.2,895.4 668.0,908.9 654.5,908.9" fill="#fff" stroke="#8c8c8c" stroke-width="2.0" stroke-linejoin="miter" />
<polygon points="689.7,955.5 696.5,969.0 683.0,969.0" fill="#fff" stroke="#8c8c8c" stroke-width="2.0" stroke-linejoin="miter" />
<polygon points="775.3,817.6 782.1,831.1 768.6,831.1" fill="#fff" stroke="#8c8c8c" stroke-width="2.0" stroke-linejoin="miter" />
<polygon points="946.4,911.2 953.2,924.7 939.7,924.7" fill="#fff" stroke="#8c8c8c" stroke-width="2.0" stroke-linejoin="miter" />
<polygon points="1288.7,1058.9 1295.4,1072.4 1281.9,1072.4" fill="#fff" stroke="#8c8c8c" stroke-width="2.0" stroke-linejoin="miter" />
<path d="M632.7,863.9 C637.5,830.7 651.7,660.4 661.2,664.6 C670.7,668.9 670.7,852.1 689.7,889.4 C708.8,926.6 732.5,880.9 775.3,888.2 C818.1,895.4 860.9,904.4 946.4,933.0 C1032.0,961.6 1231.6,1038.8 1288.7,1059.9" fill="none" stroke="#c8c8c8" stroke-width="4.2" />
<polygon points="632.7,857.1 639.5,863.9 632.7,870.6 626.0,863.9" fill="#e0e0e0" stroke="#aaaaaa" stroke-width="2.0" />
<polygon points="661.2,657.9 668.0,664.6 661.2,671.4 654.5,664.6" fill="#e0e0e0" stroke="#aaaaaa" stroke-width="2.0" />
<polygon points="689.7,882.6 696.5,889.4 689.7,896.1 683.0,889.4" fill="#e0e0e0" stroke="#aaaaaa" stroke-width="2.0" />
<polygon points="775.3,881.4 782.1,888.2 775.3,894.9 768.6,888.2" fill="#e0e0e0" stroke="#aaaaaa" stroke-width="2.0" />
<polygon points="946.4,926.2 953.2,933.0 946.4,939.7 939.7,933.0" fill="#e0e0e0" stroke="#aaaaaa" stroke-width="2.0" />
<polygon points="1288.7,1053.2 1295.4,1059.9 1288.7,1066.7 1281.9,1059.9" fill="#e0e0e0" stroke="#aaaaaa" stroke-width="2.0" />
<path d="M632.7,874.1 C637.5,877.3 651.7,882.0 661.2,893.3 C670.7,904.6 670.7,936.1 689.7,941.8 C708.8,947.6 732.5,933.4 775.3,927.8 C818.1,922.2 860.9,887.2 946.4,908.0 C1032.0,928.8 1231.6,1028.6 1288.7,1052.7" fill="none" stroke="#333333" stroke-width="4.0" stroke-dasharray="11.3 16.5" stroke-linecap="round"/>
<polygon points="632.7,866.3 635.0,871.0 640.1,871.7 636.4,875.3 637.3,880.4 632.7,878.0 628.1,880.4 629.0,875.3 625.3,871.7 630.4,871.0" fill="#383838" stroke="#333" stroke-width="0.5" />
<polygon points="661.2,885.6 663.5,890.2 668.6,890.9 664.9,894.5 665.8,899.6 661.2,897.2 656.7,899.6 657.5,894.5 653.8,890.9 658.9,890.2" fill="#383838" stroke="#333" stroke-width="0.5" />
<polygon points="689.7,934.1 692.0,938.7 697.1,939.4 693.4,943.0 694.3,948.1 689.7,945.7 685.2,948.1 686.1,943.0 682.4,939.4 687.5,938.7" fill="#383838" stroke="#333" stroke-width="0.5" />
<polygon points="775.3,920.0 777.6,924.7 782.7,925.4 779.0,929.0 779.9,934.1 775.3,931.7 770.7,934.1 771.6,929.0 767.9,925.4 773.0,924.7" fill="#383838" stroke="#333" stroke-width="0.5" />
<polygon points="946.4,900.3 948.7,904.9 953.8,905.6 950.1,909.2 951.0,914.3 946.4,911.9 941.9,914.3 942.7,909.2 939.0,905.6 944.1,904.9" fill="#383838" stroke="#333" stroke-width="0.5" />
<polygon points="1288.7,1044.9 1290.9,1049.6 1296.0,1050.3 1292.3,1053.9 1293.2,1059.0 1288.7,1056.6 1284.1,1059.0 1285.0,1053.9 1281.3,1050.3 1286.4,1049.6" fill="#383838" stroke="#333" stroke-width="0.5" />
<text transform="translate(661.00,637.40)" text-anchor="middle" font-family="'Liberation Serif', 'Times New Roman', serif" font-size="21.0" font-weight="bold" fill="#444" >*</text>
<text transform="translate(690.00,862.80)" text-anchor="middle" font-family="'Liberation Serif', 'Times New Roman', serif" font-size="21.0" font-weight="bold" fill="#444" >*</text>
<text transform="translate(775.50,795.80)" text-anchor="middle" font-family="'Liberation Serif', 'Times New Roman', serif" font-size="21.0" font-weight="bold" fill="#444" >*</text>
<text transform="translate(947.00,860.80)" text-anchor="middle" font-family="'Liberation Serif', 'Times New Roman', serif" font-size="21.0" font-weight="bold" fill="#444" >*</text>
<text transform="translate(1288.00,1005.10)" text-anchor="middle" font-family="'Liberation Serif', 'Times New Roman', serif" font-size="21.0" font-weight="bold" fill="#444" >*</text>
<line x1="1349" y1="757.6" x2="1417" y2="757.6" stroke="#6e6e6e" stroke-width="3.2" stroke-dasharray="0.1 8" stroke-linecap="round" />
<polygon points="1382.5,751.0 1389.2,764.2 1375.8,764.2" fill="#7a7a7a" stroke="#7a7a7a" stroke-width="0.5" stroke-linejoin="miter" />
<text transform="translate(1425.20,765.80) scale(0.9200,1)" text-anchor="start" font-family="'Liberation Sans', Arial, sans-serif" font-size="24.0" fill="#595959" >T1</text>
<line x1="1349" y1="803.9" x2="1417" y2="803.9" stroke="#404040" stroke-width="4.0" stroke-dasharray="11.3 16.5" stroke-linecap="round" />
<rect x="1375.4" y="796.8" width="14.2" height="14.2" fill="#5a5a5a" stroke="#5a5a5a" stroke-width="0.5" />
<text transform="translate(1425.20,812.10) scale(0.9200,1)" text-anchor="start" font-family="'Liberation Sans', Arial, sans-serif" font-size="24.0" fill="#595959" >T2</text>
<line x1="1349" y1="849.8" x2="1417" y2="849.8" stroke="#a5a5a5" stroke-width="3.5"  stroke-linecap="round"/>
<circle cx="1382.5" cy="849.8" r="6.6" fill="#a5a5a5" stroke="#a5a5a5" stroke-width="0.5" />
<text transform="translate(1425.20,858.00) scale(0.9200,1)" text-anchor="start" font-family="'Liberation Sans', Arial, sans-serif" font-size="24.0" fill="#595959" >T3</text>
<line x1="1349" y1="898.0" x2="1417" y2="898.0" stroke="#6e6e6e" stroke-width="3.2" stroke-dasharray="0.1 8" stroke-linecap="round" />
<circle cx="1382.5" cy="898.0" r="7.1" fill="none" stroke="#555" stroke-width="1.5" stroke-dasharray="2 2"/>
<text transform="translate(1425.20,906.20) scale(0.9200,1)" text-anchor="start" font-family="'Liberation Sans', Arial, sans-serif" font-size="24.0" fill="#595959" >T4</text>
<line x1="1349" y1="945.0" x2="1417" y2="945.0" stroke="#8c8c8c" stroke-width="3.2"  stroke-linecap="round"/>
<polygon points="1382.5,938.6 1388.9,951.4 1376.1,951.4" fill="#fff" stroke="#8c8c8c" stroke-width="2.0" stroke-linejoin="miter" />
<text transform="translate(1425.20,953.20) scale(0.9200,1)" text-anchor="start" font-family="'Liberation Sans', Arial, sans-serif" font-size="24.0" fill="#595959" >T5</text>
<line x1="1349" y1="991.0" x2="1417" y2="991.0" stroke="#c8c8c8" stroke-width="4.2"  stroke-linecap="round"/>
<polygon points="1382.5,984.6 1388.9,991.0 1382.5,997.4 1376.1,991.0" fill="#e0e0e0" stroke="#aaaaaa" stroke-width="2.0" />
<text transform="translate(1425.20,999.20) scale(0.9200,1)" text-anchor="start" font-family="'Liberation Sans', Arial, sans-serif" font-size="24.0" fill="#595959" >T6</text>
<line x1="1349" y1="1038.0" x2="1417" y2="1038.0" stroke="#333333" stroke-width="4.0" stroke-dasharray="11.3 16.5" stroke-linecap="round" />
<polygon points="1382.5,1030.6 1384.7,1035.0 1389.5,1035.7 1386.0,1039.1 1386.8,1044.0 1382.5,1041.7 1378.2,1044.0 1379.0,1039.1 1375.5,1035.7 1380.3,1035.0" fill="#383838" stroke="#333" stroke-width="0.5" />
<text transform="translate(1425.20,1046.20) scale(0.9200,1)" text-anchor="start" font-family="'Liberation Sans', Arial, sans-serif" font-size="24.0" fill="#595959" >T7</text>
</svg>
</div>
</body></html>
